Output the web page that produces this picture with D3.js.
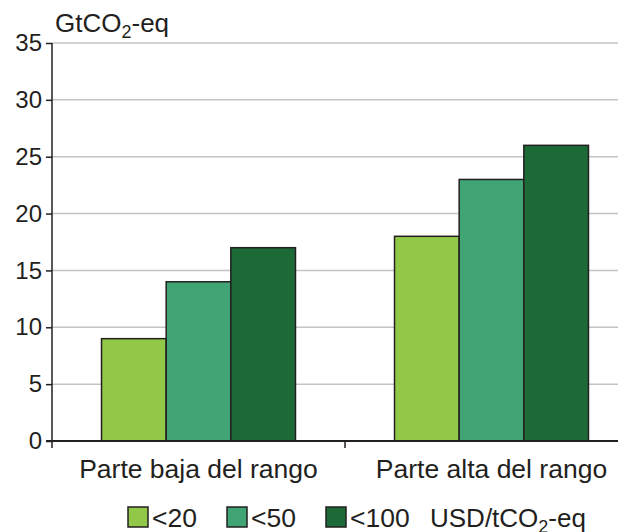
<!DOCTYPE html>
<html lang="es">
<head>
<meta charset="utf-8">
<title>GtCO2-eq</title>
<script src="https://d3js.org/d3.v7.min.js"></script>
<style>
  body{margin:0;background:#fff;font-family:"Liberation Sans",Arial,sans-serif;}
  text{fill:#231f20;}
</style>
</head>
<body>
<div id="chart"></div>
<script>
// data
var groups = ["Parte baja del rango", "Parte alta del rango"]
var series = ["<20", "<50", "<100"]
var lowValues = [9, 14, 17]
var highValues = [18, 23, 26]
var yTicks = [0, 5, 10, 15, 20, 25, 30, 35]
var colors = ["#92c847", "#40a475", "#1c6b37"]

var w = 618, h = 532
var plotLeft = 52, plotTop = 43, plotBottom = 441

var svg = d3.select("#chart").append("svg")
    .attr("width", w).attr("height", h)

var y = d3.scaleLinear().domain([0, 35]).range([plotBottom, plotTop])
// plot runs past the right edge of the picture
var x0 = d3.scaleBand().domain(groups).range([plotLeft, 638])
    .paddingInner(0.338).paddingOuter(0.169)
var x1 = d3.scaleBand().domain(series).range([0, x0.bandwidth()])

// gridlines
svg.selectAll("line.grid")
    .data(yTicks.filter(function(d){ return d > 0 }))
    .enter().append("line")
    .attr("class", "grid")
    .attr("x1", plotLeft).attr("x2", w)
    .attr("y1", function(d){ return y(d) }).attr("y2", function(d){ return y(d) })
    .attr("stroke", "#c4c4c4").attr("stroke-width", 1.5)

// bars
var rows = [lowValues, highValues]
var g = svg.selectAll("g.group")
    .data(groups)
    .enter().append("g")
    .attr("class", "group")
    .attr("transform", function(d){ return "translate(" + x0(d) + ",0)" })

g.selectAll("rect")
    .data(function(d, i){
        return rows[i].map(function(v, j){ return {s: series[j], v: v, c: colors[j]} })
    })
    .enter().append("rect")
    .attr("x", function(d){ return x1(d.s) })
    .attr("y", function(d){ return y(d.v) })
    .attr("width", x1.bandwidth())
    .attr("height", function(d){ return y(0) - y(d.v) })
    .attr("fill", function(d){ return d.c })
    .attr("stroke", "#231f20").attr("stroke-width", 1.5)

// y axis
var yAxis = d3.axisLeft(y).tickValues(yTicks).tickSize(6).tickPadding(4)
var ya = svg.append("g").attr("transform", "translate(" + plotLeft + ",0)").call(yAxis)
ya.select(".domain").remove()
ya.selectAll(".tick line").attr("stroke", "#231f20").attr("stroke-width", 1.5)
ya.selectAll(".tick text")
    .style("font-family", "'Liberation Sans', Arial, sans-serif")
    .style("font-size", "24px").attr("fill", "#231f20")
ya.append("line").attr("x1", 0).attr("x2", 0).attr("y1", plotTop).attr("y2", plotBottom + 7)
    .attr("stroke", "#231f20").attr("stroke-width", 1.5)

// x axis
svg.append("line").attr("x1", plotLeft - 6).attr("x2", w).attr("y1", plotBottom).attr("y2", plotBottom)
    .attr("stroke", "#231f20").attr("stroke-width", 2.2)
var midX = x0(groups[1]) - x0.step() * x0.paddingInner() / 2
svg.append("line")
    .attr("x1", midX).attr("x2", midX)
    .attr("y1", plotBottom).attr("y2", plotBottom + 7)
    .attr("stroke", "#231f20").attr("stroke-width", 1.5)

svg.selectAll("text.cat")
    .data(groups)
    .enter().append("text")
    .attr("class", "cat")
    .attr("x", function(d){ return x0(d) + x0.bandwidth() / 2 })
    .attr("y", 478)
    .attr("text-anchor", "middle")
    .style("font-size", "26.5px")
    .text(function(d){ return d })

// unit title
var t = svg.append("text").attr("x", 55).attr("y", 32).style("font-size", "26px")
t.append("tspan").text("GtCO")
t.append("tspan").attr("dy", 6).style("font-size", "18px").text("2")
t.append("tspan").attr("dy", -6).text("-eq")

// legend
var legX = [128, 227, 326]
var lg = svg.selectAll("g.leg")
    .data(series)
    .enter().append("g")
    .attr("class", "leg")
    .attr("transform", function(d, i){ return "translate(" + legX[i] + ",507)" })
lg.append("rect").attr("width", 20).attr("height", 20)
    .attr("fill", function(d, i){ return colors[i] })
    .attr("stroke", "#231f20").attr("stroke-width", 1.5)
lg.append("text").attr("x", 24).attr("y", 20).style("font-size", "26.5px")
    .text(function(d){ return d })

var u = svg.append("text").attr("x", 430).attr("y", 527).style("font-size", "26px")
u.append("tspan").text("USD/tCO")
u.append("tspan").attr("dy", 6).style("font-size", "18px").text("2")
u.append("tspan").attr("dy", -6).text("-eq")
</script>
</body>
</html>
